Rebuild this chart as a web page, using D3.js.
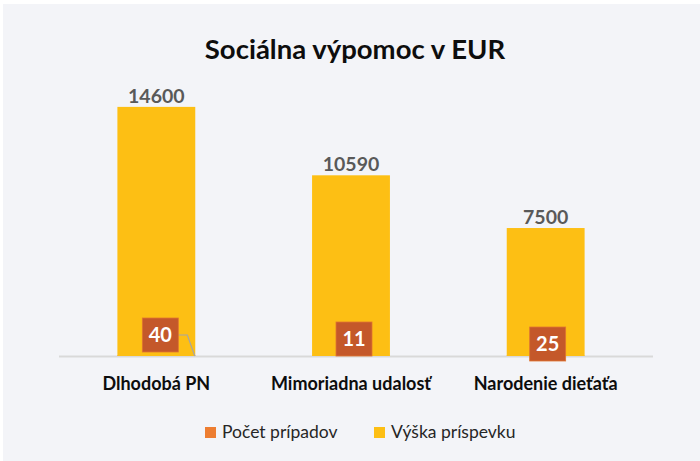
<!DOCTYPE html>
<html><head><meta charset="utf-8">
<script src="https://cdn.jsdelivr.net/npm/d3@7"></script>
<style>body{margin:0;background:#fff}svg{display:block}</style>
</head><body>
<script>
const categories = ["Dlhodobá PN", "Mimoriadna udalosť", "Narodenie dieťaťa"];
const seriesNames = ["Počet prípadov", "Výška príspevku"];
const pocetPripadov = [40, 11, 25];
const vyskaPrispevku = [14600, 10590, 7500];
const title = "Sociálna výpomoc v EUR";

const colors = {pocet: "#ED7D31", pocetBox: "#C4582A", vyska: "#FDBF14"};
const font = "Lato, 'Open Sans', sans-serif";
const W = 700, H = 461;
const svg = d3.select("body").append("svg").attr("width", W).attr("height", H);
svg.append("rect").attr("x", 3).attr("y", 4).attr("width", W - 3).attr("height", H - 4).attr("fill", "#F3F4F8");

const x = d3.scaleBand().domain(categories).range([59, 643]);
const y = d3.scaleLinear().domain([0, 16000]).range([356, 83]);
const bw = x.step() * 0.4;
const cx = c => x(c) + x.bandwidth() / 2;

// axis line
svg.append("line").attr("x1", 59).attr("x2", 653).attr("y1", y(0) + 0.5).attr("y2", y(0) + 0.5)
  .attr("stroke", "#D9D9D9").attr("stroke-width", 2);

// orange series (tiny), behind
svg.selectAll(".pb").data(categories).enter().append("rect")
  .attr("x", c => cx(c) - bw / 2).attr("width", bw)
  .attr("y", (c, i) => y(pocetPripadov[i])).attr("height", (c, i) => y(0) - y(pocetPripadov[i]))
  .attr("fill", colors.pocet);
// yellow series
svg.selectAll(".vb").data(categories).enter().append("rect")
  .attr("x", c => cx(c) - bw / 2).attr("width", bw)
  .attr("y", (c, i) => y(vyskaPrispevku[i])).attr("height", (c, i) => y(0) - y(vyskaPrispevku[i]))
  .attr("fill", colors.vyska);

// value labels
svg.selectAll(".vl").data(categories).enter().append("text")
  .attr("x", c => cx(c)).attr("y", (c, i) => y(vyskaPrispevku[i]) - 4)
  .attr("text-anchor", "middle").attr("font-family", font).attr("font-weight", "bold")
  .attr("font-size", 19.5).attr("fill", "#595959").text((c, i) => vyskaPrispevku[i]);

// label boxes for Počet prípadov (manual nudges as in reference)
const nudge = [[4, -4], [3, 0], [2, 5]];
const bxW = 36, bxH = 34;
categories.forEach((c, i) => {
  const bx = cx(c) + nudge[i][0] - bxW / 2;
  const by = y(0) - bxH + nudge[i][1];
  if (i === 0) {
    svg.append("polyline")
      .attr("points", [[bx + bxW, by + bxH / 2], [bx + bxW + 9, by + bxH / 2], [cx(c) + bw / 2 - 0.5, y(0)]].map(p => p.join(",")).join(" "))
      .attr("fill", "none").attr("stroke", "#A6A6A6").attr("stroke-width", 1.2);
  }
  svg.append("rect").attr("x", bx).attr("y", by).attr("width", bxW).attr("height", bxH)
    .attr("fill", colors.pocetBox).attr("stroke", "#E07530").attr("stroke-width", 0.8);
  svg.append("text").attr("x", bx + bxW / 2).attr("y", by + bxH / 2 + 7)
    .attr("text-anchor", "middle").attr("font-family", font).attr("font-weight", "bold")
    .attr("font-size", 20).attr("fill", "#fff").text(pocetPripadov[i]);
});

// category labels
svg.selectAll(".cl").data(categories).enter().append("text")
  .attr("x", c => cx(c)).attr("y", 390)
  .attr("text-anchor", "middle").attr("font-family", font).attr("font-weight", "bold")
  .attr("font-size", 18).attr("fill", "#0D0D0D").text(c => c);

// title
svg.append("text").attr("x", 355).attr("y", 59).attr("text-anchor", "middle")
  .attr("font-family", font).attr("font-weight", "bold").attr("font-size", 27.5)
  .attr("fill", "#0D0D0D").text(title);

// legend
const legend = [{name: seriesNames[0], color: colors.pocet, x: 205}, {name: seriesNames[1], color: colors.vyska, x: 374}];
const lg = svg.selectAll(".lg").data(legend).enter().append("g").attr("transform", d => `translate(${d.x},427)`);
lg.append("rect").attr("width", 11).attr("height", 11).attr("fill", d => d.color);
lg.append("text").attr("x", 17).attr("y", 11).attr("font-family", font).attr("font-size", 17.5)
  .attr("fill", "#262626").text(d => d.name);
</script>
</body></html>
